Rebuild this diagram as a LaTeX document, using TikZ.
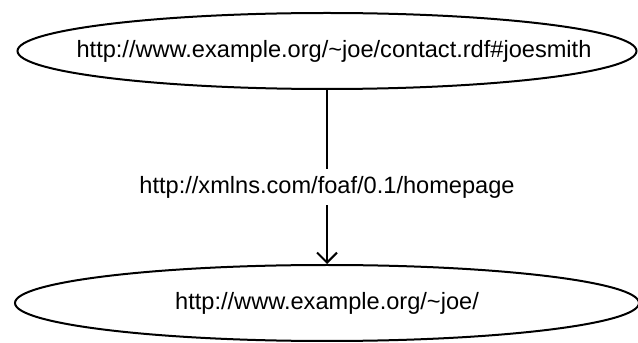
\documentclass[tikz,border=0pt]{standalone}
\usepackage{fontspec}
\setmainfont{Liberation Sans}
\usetikzlibrary{shapes.geometric,arrows.meta}
\newcommand{\restext}[3]{\makebox[0pt]{\hspace*{#1}\raisebox{#2}{#3}}}
\begin{document}
\begin{tikzpicture}[x=1pt,y=1pt,
  res/.style={ellipse,draw,line width=2pt,minimum height=76pt,inner sep=0pt,font=\fontsize{23.6}{28}\selectfont},
  lbl/.style={fill=white,inner xsep=6pt,inner ysep=7pt,font=\fontsize{23.6}{28}\selectfont},
  conn/.style={line width=2pt,-{Straight Barb[length=10pt,width=20pt,line width=2pt]}}]
\useasboundingbox (0,0) rectangle (638,343);
\node[res,minimum width=619pt] (subj) at (327,292) {\restext{14pt}{-6pt}{http://www.example.org/\textasciitilde joe/contact.rdf\#joesmith}};
\node[res,minimum width=624pt] (obj) at (327,40) {\restext{0pt}{-4pt}{http://www.example.org/\textasciitilde joe/}};
\draw[conn] (subj) -- node[lbl,pos=0.56] (pred) {http://xmlns.com/foaf/0.1/homepage} (obj);
\end{tikzpicture}
\end{document}
